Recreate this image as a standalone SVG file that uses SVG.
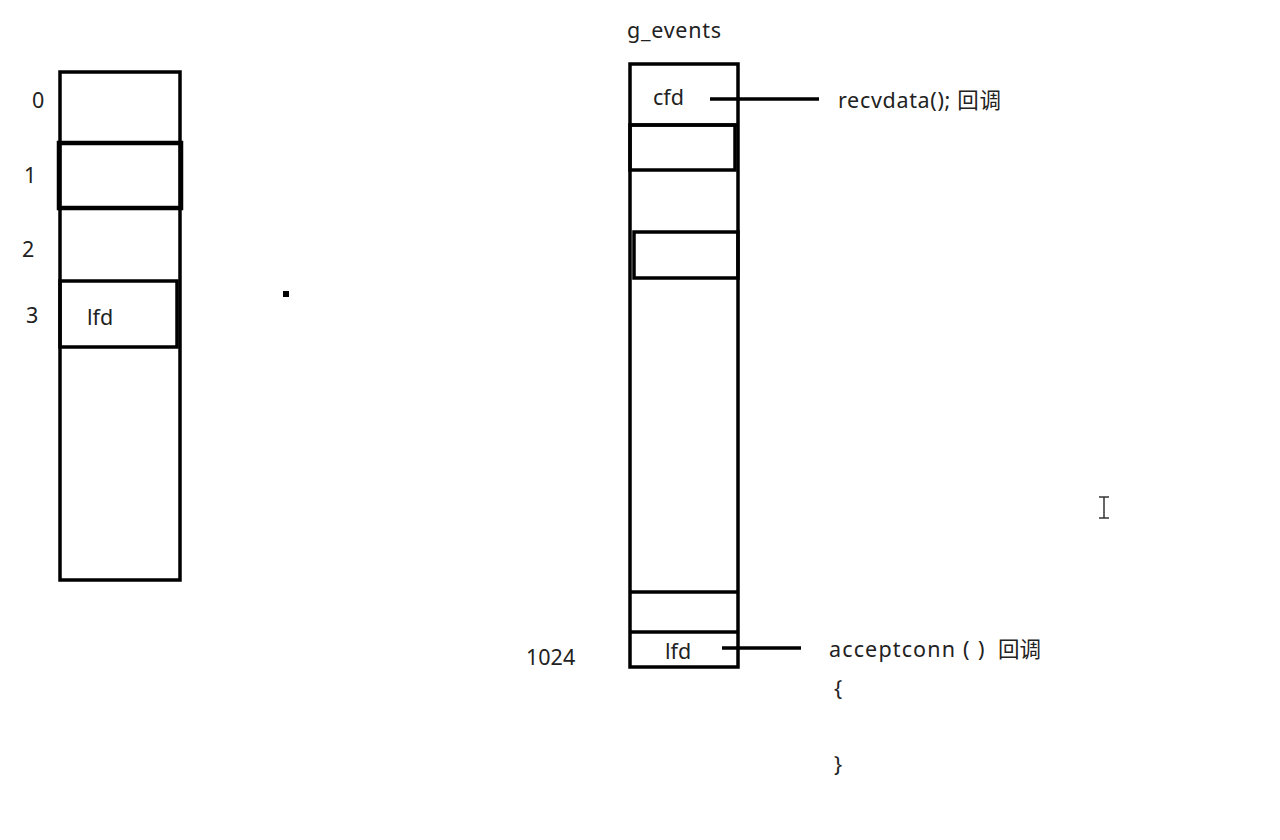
<svg xmlns="http://www.w3.org/2000/svg" width="1280" height="840" viewBox="0 0 1280 840">
<style>
.t{font-family:"Noto Sans","Noto Sans CJK SC",sans-serif;font-size:21.5px;fill:#222}
.b{fill:none;stroke:#000;stroke-width:3.5}
.bt{fill:none;stroke:#000;stroke-width:4.5}
.c{stroke:#000;stroke-width:3.5;fill:none}
</style>
<rect width="1280" height="840" fill="#fff"/>
<g id="left-array">
<rect class="b" x="60" y="72" width="120" height="508"/>
<rect class="bt" x="59" y="143" width="122" height="65"/>
<rect class="b" x="60" y="281" width="117" height="66"/>
<text class="t" x="32" y="108">0</text>
<text class="t" x="24" y="183">1</text>
<text class="t" x="22" y="257">2</text>
<text class="t" x="26" y="323">3</text>
<text class="t" x="87" y="325">lfd</text>
</g>
<g id="dot"><rect x="283" y="291" width="6" height="6" fill="#000"/></g>
<g id="g_events">
<text class="t" x="627" y="38" textLength="94">g_events</text>
<rect class="b" x="630" y="64" width="108" height="603"/>
<line class="b" x1="630" y1="125" x2="738" y2="125"/>
<rect class="b" x="630" y="125" width="105" height="45"/>
<rect class="b" x="634" y="232" width="104" height="46"/>
<line class="b" x1="630" y1="592" x2="738" y2="592"/>
<line class="b" x1="630" y1="632" x2="738" y2="632"/>
<text class="t" x="653" y="105">cfd</text>
<text class="t" x="665" y="659">lfd</text>
<text class="t" x="526" y="665">1024</text>
</g>
<g id="connectors">
<line class="c" x1="710" y1="99" x2="819" y2="99"/>
<line class="c" x1="722" y1="648" x2="801" y2="648"/>
</g>
<g id="callbacks">
<text class="t" x="838" y="108" textLength="163">recvdata(); 回调</text>
<text class="t" x="829" y="657"><tspan textLength="126">acceptconn</tspan><tspan x="963">(</tspan><tspan x="978">)</tspan><tspan x="998">回调</tspan></text>
<text class="t" x="834" y="696">{</text>
<text class="t" x="834" y="772">}</text>
</g>
<g id="cursor" stroke="#333" stroke-width="1.5" fill="none">
<line x1="1104" y1="497" x2="1104" y2="518"/>
<line x1="1099" y1="497" x2="1109" y2="497"/>
<line x1="1099" y1="518" x2="1109" y2="518"/>
</g>
</svg>
